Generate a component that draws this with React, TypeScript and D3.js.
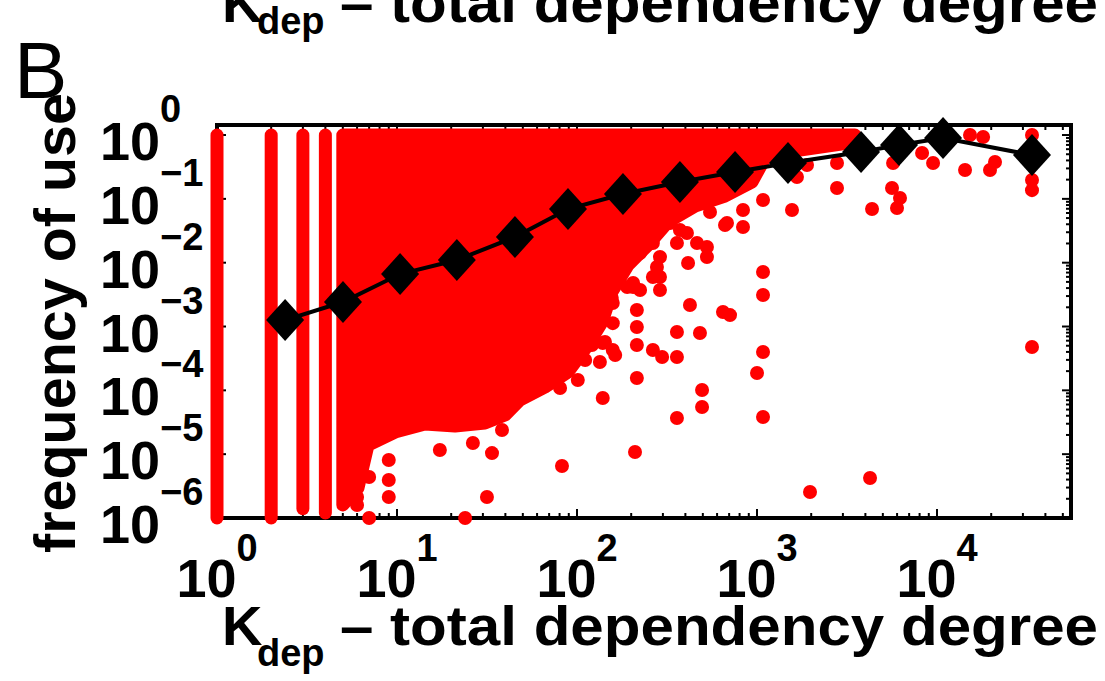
import React from "react";
import * as d3 from "d3";

const W = 1105;
const H = 681;

// tick exponents
const xTickExponents = [0, 1, 2, 3, 4];
const yTickExponents = [0, -1, -2, -3, -4, -5, -6];

// log-binned averages (black diamonds)
const binDegree = [2.39, 5.01, 10.4, 21.5, 45.2, 89.1, 180, 373, 755, 1486, 3784, 6150, 10800, 33700];
const binFrequency = [1.26e-3, 2.42e-3, 6.64e-3, 0.011, 0.0252, 0.0693, 0.119, 0.184, 0.263, 0.364, 0.542, 0.697, 0.898, 0.486];

// integer degrees whose points stack into full vertical columns
const columnDegree = [1, 2, 3, 4];
const columnFreqLow = [1e-6, 1e-6, 1.4e-6, 1.2e-6];
const columnFreqHigh = [1, 1, 1, 1];

// outline of the densely overplotted point cloud (point centres)
const denseDegree = [5.0, 3500, 3206, 1734, 1107, 938, 664, 452, 320, 248, 192, 156, 138, 115, 89.1, 66.4, 48.2, 39.8, 30.8, 21.0, 14.3, 9.75, 6.9, 6.07, 5.0];
const denseFrequency = [1, 1, 0.75, 0.582, 0.436, 0.184, 0.111, 0.0772, 0.0434, 0.0189, 9.19e-3, 3.47e-3, 1.18e-3, 5.13e-4, 1.94e-4, 1.13e-4, 7.05e-5, 4.1e-5, 3.08e-5, 2.76e-5, 2.97e-5, 2.22e-5, 1.39e-5, 2.95e-6, 1.6e-6];

// individual points outside the dense cloud
const outlierDegree = [
  9, 17.3, 33.7, 38.3, 82.5, 9, 31.6, 7, 23.9, 6, 6, 7, 9, 26.4,
  139, 215, 359, 482, 424, 359, 215, 158, 264, 495, 495, 414, 647, 708, 1000,
  205, 289, 264, 158, 527, 527, 408, 681, 329, 359, 210, 1080, 1080, 1080, 1080, 156,
  1970, 4245, 33700, 1564, 2782, 4355, 5623, 5995, 6227, 14310, 19690, 21000,
  33700, 33700, 33700, 18030, 15250, 9506, 8260, 5700, 2782, 836, 664, 1080, 1667, 1896, 548, 836,
  80.5, 101, 111, 121, 143, 163, 134, 215, 297, 147, 190, 224, 158, 224, 289, 289, 373,
  139, 158, 215, 205, 278, 264, 359, 464,
];
const outlierFrequency = [
  8.09e-6, 1.16e-5, 1.04e-5, 2.39e-5, 6.52e-6, 2.13e-6, 2.13e-6, 1e-6, 1e-6, 1.6e-6, 2.13e-6, 4.39e-6, 3.94e-6, 1.5e-5,
  7.59e-5, 1.56e-4, 3.33e-4, 7.91e-4, 2.17e-3, 8.2e-4, 9.82e-4, 1.13e-3, 4.28e-4, 1.01e-4, 5.48e-5, 9.88e-3, 1.69e-3, 1.51e-3, 1.87e-4,
  4.16e-3, 3.73e-3, 5.96e-3, 2.33e-3, 0.0123, 0.0176, 0.0292, 0.0418, 0.0418, 3.68e-5, 1.08e-5, 7.14e-3, 3.11e-3, 3.98e-4, 3.82e-5, 2.79e-3,
  2.55e-6, 4.23e-6, 4.77e-4, 0.0668, 0.148, 0.0693, 0.148, 0.0718, 0.103, 0.283, 0.283, 0.378,
  0.137, 0.197, 1.0, 0.93, 1.0, 0.364, 0.522, 0.364, 0.364, 0.0362, 0.0389, 0.0959, 0.22, 0.339, 0.0622, 0.0668,
  1.09e-4, 1.45e-4, 2.99e-4, 5.13e-4, 5.71e-4, 3.57e-4, 2.78e-4, 5.13e-4, 3.33e-4, 3.73e-3, 4.16e-3, 3.73e-3, 0.0123, 0.0142, 0.0123, 5.96e-3, 0.0325,
  5.51e-4, 4.28e-4, 1.81e-3, 4.8e-3, 8.55e-3, 0.0203, 0.0203, 0.0203,
];

const RED = "#ff0000";
const FONT = "'Liberation Sans', Arial, Helvetica, sans-serif";

export default function App() {
  const left = 217, right = 1071, top = 125, bottom = 518;
  const x = d3.scaleLog().domain([1, 55500]).range([left, right]);
  const y = d3.scaleLog().domain([1e-6, 1.436]).range([bottom, top]);

  const dotR = 7;

  // ticks
  const xMajor = xTickExponents.map((e) => Math.pow(10, e));
  const xMinor: number[] = [];
  for (let e = 0; e <= 4; e++) for (let m = 2; m <= 9; m++) {
    const v = m * Math.pow(10, e);
    if (v < 55500) xMinor.push(v);
  }
  const yMajor = yTickExponents.map((e) => Math.pow(10, e));
  const yMinor: number[] = [];
  for (let e = -6; e <= 0; e++) for (let m = 2; m <= 9; m++) {
    const v = m * Math.pow(10, e);
    if (v < 1.436) yMinor.push(v);
  }
  const majLen = 9, minLen = 5;

  const densePts = denseDegree.map((k, i) => [x(k), y(denseFrequency[i])] as [number, number]);
  const densePath = d3.line().curve(d3.curveLinearClosed)(densePts) || "";

  const binLine = d3.line<number>().x((k) => x(k)).y((_, i) => y(binFrequency[i]))(binDegree) || "";

  const diamond = (cx: number, cy: number) => {
    const p = d3.path();
    p.moveTo(cx, cy - 21);
    p.lineTo(cx + 19, cy);
    p.lineTo(cx, cy + 21);
    p.lineTo(cx - 19, cy);
    p.closePath();
    return p.toString();
  };

  const labelTail = "– total dependency degree";
  const expText = (e: number) => (e < 0 ? "−" + Math.abs(e) : String(e));

  return (
    <svg width={W} height={H} style={{ position: "absolute", left: 0, top: 0, background: "#fff" }} fontFamily={FONT}>
      <rect x={0} y={0} width={W} height={H} fill="#fff" />

      {/* cropped label of panel above */}
      <g fontWeight="bold" fill="#000">
        <text x={222} y={22} fontSize={56}>K</text>
        <text x={257} y={34} fontSize={38}>dep</text>
        <text x={340} y={22} fontSize={56} textLength={758} lengthAdjust="spacingAndGlyphs">{labelTail}</text>
      </g>

      <text x={14} y={98} fontSize={80} fill="#000">B</text>

      {/* axes box and ticks */}
      <g stroke="#000" strokeWidth={2}>
        {xMajor.map((v, i) => (
          <g key={"xM" + i}>
            <line x1={x(v)} x2={x(v)} y1={bottom} y2={bottom - majLen} />
            <line x1={x(v)} x2={x(v)} y1={top} y2={top + majLen} />
          </g>
        ))}
        {xMinor.map((v, i) => (
          <g key={"xm" + i}>
            <line x1={x(v)} x2={x(v)} y1={bottom} y2={bottom - minLen} />
            <line x1={x(v)} x2={x(v)} y1={top} y2={top + minLen} />
          </g>
        ))}
        {yMajor.map((v, i) => (
          <g key={"yM" + i}>
            <line x1={left} x2={left + majLen} y1={y(v)} y2={y(v)} />
            <line x1={right} x2={right - majLen} y1={y(v)} y2={y(v)} />
          </g>
        ))}
        {yMinor.map((v, i) => (
          <g key={"ym" + i}>
            <line x1={left} x2={left + minLen} y1={y(v)} y2={y(v)} />
            <line x1={right} x2={right - minLen} y1={y(v)} y2={y(v)} />
          </g>
        ))}
      </g>
      <rect x={left} y={top} width={right - left} height={bottom - top} fill="none" stroke="#000" strokeWidth={4} />

      {/* red scatter */}
      <g>
        {columnDegree.map((k, i) => (
          <line key={"c" + i} x1={x(k)} x2={x(k)} y1={y(columnFreqLow[i])} y2={y(columnFreqHigh[i])}
            stroke={RED} strokeWidth={13} strokeLinecap="round" />
        ))}
        <path d={densePath} fill={RED} stroke={RED} strokeWidth={13} strokeLinejoin="round" />
        {outlierDegree.map((k, i) => (
          <circle key={"o" + i} cx={x(k)} cy={y(outlierFrequency[i])} r={dotR} fill={RED} />
        ))}
      </g>

      {/* binned averages */}
      <path d={binLine} fill="none" stroke="#000" strokeWidth={4} />
      {binDegree.map((k, i) => (
        <path key={"d" + i} d={diamond(x(k), y(binFrequency[i]))} fill="#000" />
      ))}

      {/* tick labels */}
      <g fontWeight="bold" fill="#000">
        {xTickExponents.map((e, i) => (
          <text key={"xl" + i} x={x(Math.pow(10, e))} y={597} fontSize={54} textAnchor="middle">
            10<tspan dy={-36} fontSize={38}>{expText(e)}</tspan>
          </text>
        ))}
        {yTickExponents.map((e, i) => (
          <text key={"yl" + i} x={100} y={y(Math.pow(10, e)) + 25} fontSize={54}>
            10<tspan dy={-38} fontSize={38}>{expText(e)}</tspan>
          </text>
        ))}
      </g>

      {/* axis labels */}
      <g fontWeight="bold" fill="#000">
        <text x={222} y={645} fontSize={56}>K</text>
        <text x={257} y={666} fontSize={38}>dep</text>
        <text x={340} y={645} fontSize={56} textLength={758} lengthAdjust="spacingAndGlyphs">{labelTail}</text>
        <text transform="translate(75,323) rotate(-90)" textAnchor="middle" fontSize={58}
          textLength={460} lengthAdjust="spacingAndGlyphs">frequency of use</text>
      </g>
    </svg>
  );
}
